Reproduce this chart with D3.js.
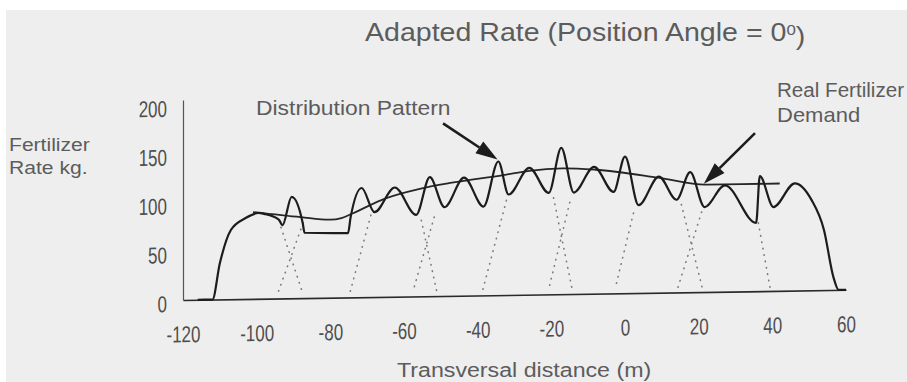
<!DOCTYPE html>
<html>
<head>
<meta charset="utf-8">
<script src="https://cdnjs.cloudflare.com/ajax/libs/d3/7.8.5/d3.min.js"></script>
<style>
  body { margin: 0; background: #ffffff; }
  text { font-family: "Liberation Sans", Arial, sans-serif; fill: #5c5c5c; }
  .tick text { fill: #4e4e4e; }
</style>
</head>
<body>
<script>
// transversal distance (m) and rate (kg)
const xTicks = [-120, -100, -80, -60, -40, -20, 0, 20, 40, 60];
const yTicks = [0, 50, 100, 150, 200];

const patternX = [-116, -112, -110, -107, -103, -99.5, -98, -94, -93, -90.5, -87.5, -87, -75.2, -74.5, -71.5, -68, -62.5,
  -56.7, -53, -49, -43.7, -38.4, -34.4, -31.6, -26, -20.7, -17.3, -13.9, -8.4, -3.1, 0, 3.7, 9.2, 14, 17.7, 21.6,
  27.1, 35.6, 36.6, 40.3, 46.1, 50.6, 54, 56.6, 58, 60];
const patternY = [0, 0, 37, 71, 83, 88, 87, 81, 75, 104, 77, 67, 66, 82, 112, 87, 112,
  83.5, 122, 91, 121, 91, 137, 103, 130, 104, 150, 104, 130, 104, 140, 90, 119, 95, 123, 87,
  109, 70, 118, 86, 110, 93, 62, 13, 0, 0];

const demandX = [-101, -88, -80, -77, -74, -65, -56, -47, -33, -26, -17, -8, 9, 22, 42];
const demandY = [89, 83, 80, 81.5, 86, 101, 110, 116, 123, 127, 129, 127, 118, 110, 110];

// dotted tails of the single passes
const tailX0 = [-93.4, -87.4, -69, -55.3, -51.8, -32.2, -19.4, -15, 2.3, 15.3, 20.8, 36.2];
const tailY0 = [73, 77, 84, 78, 81, 97, 99, 94, 82, 90, 82, 70];
const tailX1 = [-87.4, -94.4, -74.6, -51, -57.5, -38.8, -14.3, -20.8, -2.6, 21, 14.2, 39.4];
const tailY1 = [4, 4, 6, 3, 6, 3, 4, 4, 6, 4, 3, 3];

var width = 907;
var height = 382;

var svg = d3.select("body").append("svg")
    .attr("width", width)
    .attr("height", height);

svg.append("rect").attr("width", width).attr("height", height).attr("fill", "#ffffff");
svg.append("rect").attr("x", 6).attr("y", 10)
    .attr("width", width - 6).attr("height", height - 10)
    .attr("fill", "#eeeeee");

const x = d3.scaleLinear().domain([-120, 60]).range([183, 846]);
const y = d3.scaleLinear().domain([0, 205]).range([300, 100]);

// the scan is a little tilted
const plot = svg.append("g")
    .attr("transform", "translate(183,300) skewY(-0.88) translate(-183,-300)");

const tickScale = 0.74;  // the tick digits are narrow

const xAxis = plot.append("g")
    .attr("transform", `translate(0,${y(0)})`)
    .call(d3.axisBottom(x).tickValues(xTicks).tickSize(0).tickSizeOuter(0).tickPadding(26)
        .tickFormat(d => String(d)));
xAxis.select(".domain").attr("stroke", "#2a2a2a").attr("stroke-width", 1.6);
xAxis.selectAll(".tick text")
    .style("font-size", "23px")
    .attr("transform", `scale(${tickScale},1)`);

const yAxis = plot.append("g")
    .attr("transform", `translate(${x(-120)},0)`)
    .call(d3.axisLeft(y).tickValues(yTicks).tickSize(0).tickSizeOuter(0).tickPadding(16));
yAxis.select(".domain").attr("stroke", "#555").attr("stroke-width", 1.2);
yAxis.selectAll(".tick text")
    .style("font-size", "23px")
    .attr("x", -16 / tickScale)
    .attr("dy", "0.49em")
    .attr("transform", `scale(${tickScale},1)`);

// dotted tails
plot.append("g").selectAll("line")
    .data(tailX0)
    .enter().append("line")
    .attr("x1", (d, i) => x(tailX0[i]))
    .attr("y1", (d, i) => y(tailY0[i]))
    .attr("x2", (d, i) => x(tailX1[i]))
    .attr("y2", (d, i) => y(tailY1[i]))
    .attr("stroke", "#7a7a7a")
    .attr("stroke-width", 1.6)
    .attr("stroke-linecap", "round")
    .attr("stroke-dasharray", "0.5,6");

const line = d3.line()
    .x(d => x(d[0]))
    .y(d => y(d[1]))
    .curve(d3.curveMonotoneX);

plot.append("path")
    .datum(d3.zip(demandX, demandY))
    .attr("fill", "none")
    .attr("stroke", "#262626")
    .attr("stroke-width", 1.8)
    .attr("d", line);

plot.append("path")
    .datum(d3.zip(patternX, patternY))
    .attr("fill", "none")
    .attr("stroke", "#1c1c1c")
    .attr("stroke-width", 2.2)
    .attr("stroke-linejoin", "round")
    .attr("d", line);

// arrows pointing at the curves
function arrow(m0, v0, m1, v1) {
    const x0 = x(m0), y0 = y(v0), x1 = x(m1), y1 = y(v1);
    const a = Math.atan2(y1 - y0, x1 - x0);
    const len = 22, half = 7;
    const bx = x1 - len * Math.cos(a), by = y1 - len * Math.sin(a);
    plot.append("line")
        .attr("x1", x0).attr("y1", y0).attr("x2", bx).attr("y2", by)
        .attr("stroke", "#1c1c1c").attr("stroke-width", 2.6);
    plot.append("path")
        .attr("d", `M${x1},${y1}L${bx - half * Math.sin(a)},${by + half * Math.cos(a)}` +
            `L${bx + half * Math.sin(a)},${by - half * Math.cos(a)}Z`)
        .attr("fill", "#1c1c1c");
}
arrow(-49.4, 177, -34.6, 139);
arrow(35.3, 162, 21.4, 111);

// labels
function label(px, py, str, size, sx, anchor) {
    return svg.append("text")
        .attr("transform", `translate(${px},${py}) scale(${sx},1)`)
        .attr("text-anchor", anchor || "start")
        .style("font-size", size + "px")
        .text(str);
}

const title = label(365, 41, "Adapted Rate (Position Angle = 0", 25.5, 1.12);
title.append("tspan").attr("dy", "-0.42em").style("font-size", "15px").text("0");
title.append("tspan").attr("dy", "0.42em").text(")");

label(9, 151, "Fertilizer", 18.5, 1.14);
label(9, 174, "Rate kg.", 18.5, 1.14);
label(256, 115, "Distribution Pattern", 21, 1.09);
label(777, 97, "Real Fertilizer", 20, 1.03);
label(777, 122, "Demand", 20, 1.1);
label(397, 377, "Transversal distance (m)", 20, 1.16);
</script>
</body>
</html>
